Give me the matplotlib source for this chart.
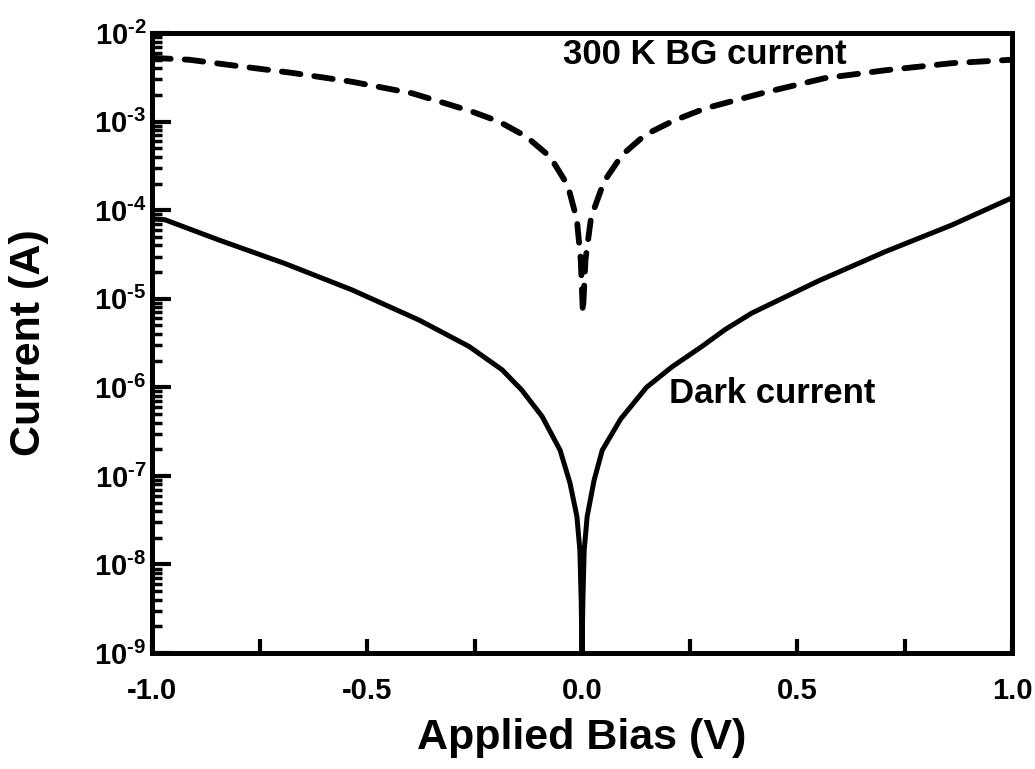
import matplotlib
matplotlib.use("Agg")
import matplotlib.pyplot as plt
from matplotlib.ticker import LogLocator, NullFormatter

# values (bias in V, current in A)
bg_bias = [-1.0, -0.914, -0.821, -0.674, -0.535, -0.395, -0.260, -0.193,
           -0.130, -0.074, -0.033, -0.012, -0.003, 0.002, 0.008, 0.021,
           0.051, 0.093, 0.147, 0.212, 0.286, 0.426, 0.565, 0.705,
           0.860, 1.0]
bg_current = [5.25e-3, 5.0e-3, 4.37e-3, 3.55e-3, 2.82e-3, 2.09e-3, 1.32e-3, 1.0e-3,
              6.8e-4, 4.0e-4, 1.9e-4, 7.8e-5, 2.75e-5, 6.9e-6, 2.75e-5, 8.3e-5,
              2.1e-4, 4.2e-4, 7.1e-4, 1.02e-3, 1.41e-3, 2.14e-3, 3.1e-3, 3.8e-3,
              4.57e-3, 5.0e-3]

dark_bias = [-1.0, -0.970, -0.844, -0.691, -0.535, -0.379, -0.263, -0.186,
             -0.140, -0.093, -0.051, -0.028, -0.012, -0.005, -0.002, 0.0,
             0.002, 0.005, 0.012, 0.028, 0.047, 0.090, 0.150, 0.209,
             0.279, 0.333, 0.395, 0.551, 0.705, 0.860, 1.0]
dark_current = [8.0e-5, 7.8e-5, 4.6e-5, 2.5e-5, 1.26e-5, 5.75e-6, 2.9e-6, 1.58e-6,
                9.3e-7, 4.7e-7, 1.95e-7, 8.3e-8, 3.5e-8, 1.45e-8, 4.0e-9, 1.0e-9,
                4.0e-9, 1.45e-8, 3.5e-8, 8.9e-8, 1.95e-7, 4.4e-7, 1.0e-6, 1.7e-6,
                2.9e-6, 4.5e-6, 6.9e-6, 1.6e-5, 3.4e-5, 6.8e-5, 1.38e-4]

x_ticks = [-1.0, -0.5, 0.0, 0.5, 1.0]
x_tick_labels = ["-1.0", "-0.5", "0.0", "0.5", "1.0"]
x_minor_ticks = [-0.75, -0.25, 0.25, 0.75]
y_exponents = [-9, -8, -7, -6, -5, -4, -3, -2]

plt.rcParams["font.family"] = ["Liberation Sans", "DejaVu Sans"]
plt.rcParams["font.weight"] = "bold"
plt.rcParams["mathtext.fontset"] = "custom"
plt.rcParams["mathtext.rm"] = "Liberation Sans:bold"
plt.rcParams["mathtext.it"] = "Liberation Sans:bold"
plt.rcParams["mathtext.bf"] = "Liberation Sans:bold"

fig = plt.figure(figsize=(10.35, 7.69), dpi=100)
ax = fig.add_axes([0.1469, 0.1508, 0.8309, 0.8062])

ax.plot(dark_bias, dark_current, color="black", linewidth=3.6,
        solid_capstyle="round", solid_joinstyle="round")
ax.plot(bg_bias, bg_current, color="black", linewidth=4.2,
        dashes=(3.2, 2.4), dash_capstyle="round", dash_joinstyle="round")

ax.set_yscale("log")
ax.set_xlim(-1.0, 1.0)
ax.set_ylim(1e-9, 1e-2)

# ticks
ax.set_xticks(x_ticks)
ax.set_xticks(x_minor_ticks, minor=True)
ax.set_xticklabels(x_tick_labels)
ax.set_yticks([10.0 ** e for e in y_exponents])
ax.set_yticklabels([r"$10^{\text{-%d}}$" % -e for e in y_exponents])
ax.yaxis.set_minor_locator(LogLocator(base=10, subs=range(2, 10), numticks=20))
ax.yaxis.set_minor_formatter(NullFormatter())

ax.tick_params(axis="x", which="both", direction="in", length=10, width=3,
               labelsize=21, pad=17, top=False)
ax.tick_params(axis="y", which="major", direction="in", length=14, width=3,
               labelsize=21, pad=4, right=False)
ax.tick_params(axis="y", which="minor", direction="in", length=7, width=2.5,
               right=False)

for spine in ax.spines.values():
    spine.set_linewidth(3.6)

ax.set_xlabel("Applied Bias (V)", fontsize=31, fontweight="bold")
ax.set_ylabel("Current (A)", fontsize=31, fontweight="bold")
ax.xaxis.set_label_coords(0.5, -0.105)
ax.yaxis.set_label_coords(-0.12, 0.5)

ax.text(0.643, 0.965, "300 K BG current", transform=ax.transAxes,
        fontsize=25, fontweight="bold", ha="center", va="center")
ax.text(0.721, 0.419, "Dark current", transform=ax.transAxes,
        fontsize=25, fontweight="bold", ha="center", va="center")

fig.savefig("out.png", dpi=100)
